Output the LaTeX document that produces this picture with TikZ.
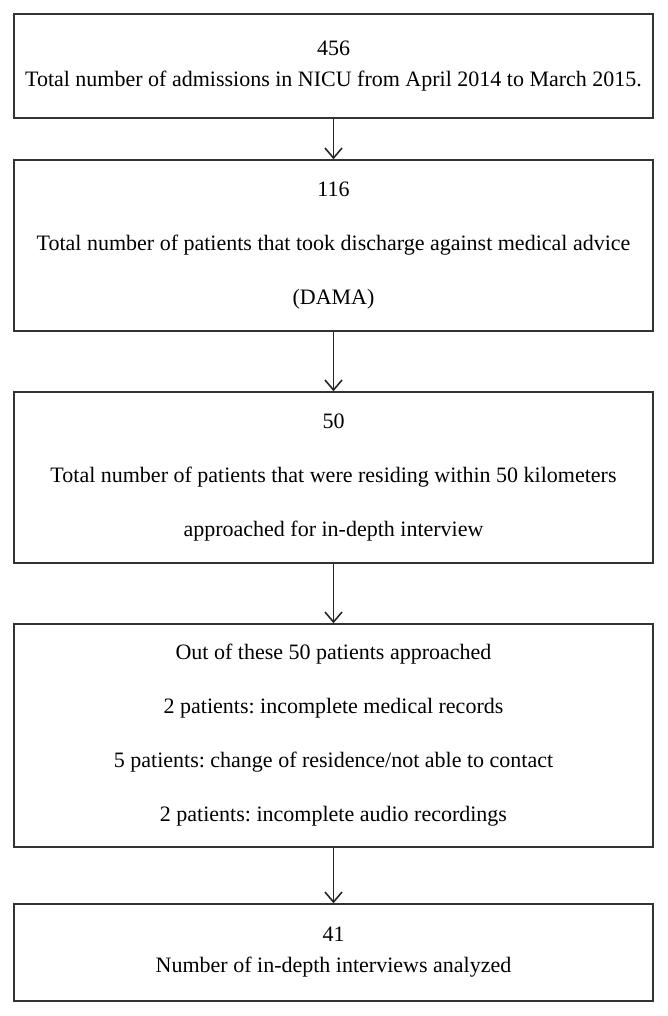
\documentclass[tikz,border=0pt]{standalone}
\usepackage{fontspec}
\setmainfont{Liberation Serif}
\usetikzlibrary{arrows.meta}
\frenchspacing

\def\boxColor{black!80}
\def\arrowColor{black!85}

\begin{document}
\begin{tikzpicture}[x=1pt,y=-1pt,
    stage/.style={draw=\boxColor, line width=1.5pt, minimum width=639pt,
        inner sep=0pt, align=center, font=\fontsize{22}{54}\selectfont},
    tight/.style={font=\fontsize{22}{31}\selectfont},
    flow/.style={draw=\arrowColor, line width=1.6pt,
        -{Straight Barb[length=10pt,width=17pt,line width=1.6pt]}}]
    % Define parameters
    \def\xmid{333.5}

    \useasboundingbox (0,0) rectangle (668,1016);

    \node[stage, tight, minimum height=104pt] (admissions) at (\xmid,66)
        {456\\Total number of admissions in NICU from April 2014 to March 2015.};
    \node[stage, minimum height=171pt] (dama) at (\xmid,245.5)
        {116\\Total number of patients that took discharge against medical advice\\(DAMA)};
    \node[stage, minimum height=171pt] (approached) at (\xmid,477.5)
        {50\\Total number of patients that were residing within 50 kilometers\\approached for in-depth interview};
    \node[stage, minimum height=223pt] (excluded) at (\xmid,735.5)
        {Out of these 50 patients approached\\2 patients: incomplete medical records\\5 patients: change of residence/not able to contact\\2 patients: incomplete audio recordings};
    \node[stage, tight, minimum height=97pt] (analyzed) at (\xmid,952.5)
        {41\\Number of in-depth interviews analyzed};

    \draw[flow] (admissions.south) -- (dama.north);
    \draw[flow] (dama.south) -- (approached.north);
    \draw[flow] (approached.south) -- (excluded.north);
    \draw[flow] (excluded.south) -- (analyzed.north);
\end{tikzpicture}
\end{document}
